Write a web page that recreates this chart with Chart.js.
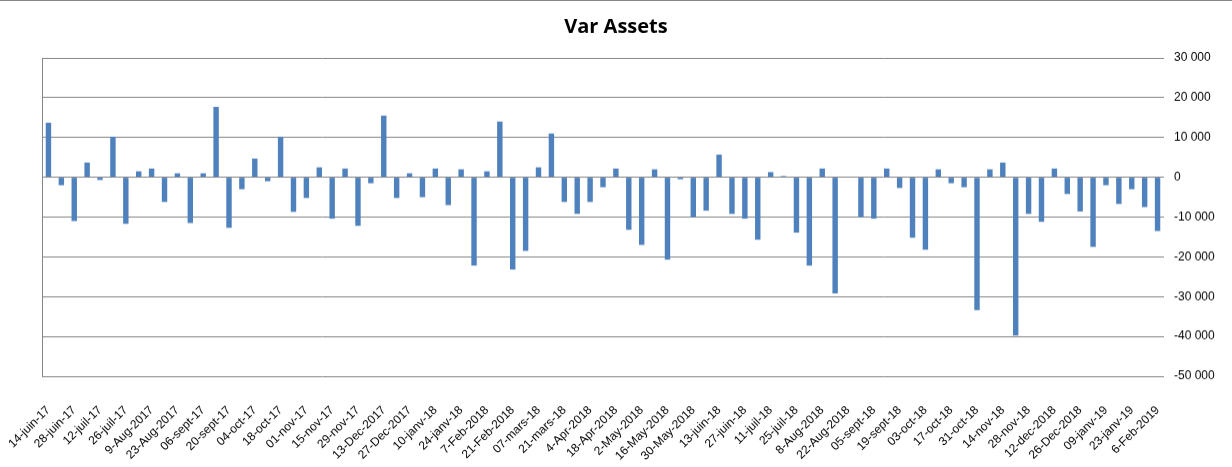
<!DOCTYPE html>
<html>
<head>
<meta charset="utf-8">
<title>Var Assets</title>
<script src="https://cdn.jsdelivr.net/npm/chart.js@4/dist/chart.umd.min.js"></script>
<style>
  body { margin: 0; background: #fff; }
  #chartVar { display: block; border-top: 1px solid #868686; }
</style>
</head>
<body>
<canvas id="chartVar" width="1232" height="466"></canvas>
<script>
// weekly dates (only every second one is printed on the axis)
var weeks = [
    '14-juin-17', '21-juin-17', '28-juin-17', '05-juil-17', '12-juil-17', '19-juil-17', '26-juil-17', '2-Aug-2017',
    '9-Aug-2017', '16-Aug-2017', '23-Aug-2017', '30-Aug-2017', '06-sept-17', '13-sept-17', '20-sept-17', '27-sept-17',
    '04-oct-17', '11-oct-17', '18-oct-17', '25-oct-17', '01-nov-17', '08-nov-17', '15-nov-17', '22-nov-17',
    '29-nov-17', '06-Dec-2017', '13-Dec-2017', '20-Dec-2017', '27-Dec-2017', '03-janv-18', '10-janv-18', '17-janv-18',
    '24-janv-18', '31-janv-18', '7-Feb-2018', '14-Feb-2018', '21-Feb-2018', '28-Feb-2018', '07-mars-18', '14-mars-18',
    '21-mars-18', '28-mars-18', '4-Apr-2018', '11-Apr-2018', '18-Apr-2018', '25-Apr-2018', '2-May-2018', '9-May-2018',
    '16-May-2018', '23-May-2018', '30-May-2018', '06-juin-18', '13-juin-18', '20-juin-18', '27-juin-18', '04-juil-18',
    '11-juil-18', '18-juil-18', '25-juil-18', '1-Aug-2018', '8-Aug-2018', '15-Aug-2018', '22-Aug-2018', '29-Aug-2018',
    '05-sept-18', '12-sept-18', '19-sept-18', '26-sept-18', '03-oct-18', '10-oct-18', '17-oct-18', '24-oct-18',
    '31-oct-18', '07-nov-18', '14-nov-18', '21-nov-18', '28-nov-18', '05-dec-2018', '12-dec-2018', '19-Dec-2018',
    '26-Dec-2018', '02-janv-19', '09-janv-19', '16-janv-19', '23-janv-19', '30-janv-19', '6-Feb-2019'
];

var varAssets = [
    13700, -2000, -11000, 3700, -700, 10200, -11700, 1500,
    2200, -6200, 1000, -11500, 1000, 17700, -12700, -3000,
    4700, -1000, 10200, -8700, -5200, 2500, -10400, 2200,
    -12200, -1500, 15500, -5200, 1000, -5000, 2200, -7000,
    2000, -22200, 1500, 14000, -23200, -18500, 2500, 11000,
    -6200, -9200, -6200, -2500, 2200, -13200, -17000, 2000,
    -20700, -500, -10000, -8400, 5700, -9200, -10400, -15700,
    1300, 300, -13900, -22200, 2200, -29200, 0, -10000,
    -10400, 2200, -2700, -15200, -18200, 2000, -1500, -2500,
    -33400, 2000, 3700, -39800, -9200, -11200, 2200, -4200,
    -8600, -17500, -2000, -6700, -3000, -7500, -13500
];

var yMin = -50000;
var yMax = 30000;
var yStep = 10000;

function formatThousands(v)
{
    return String(v).replace(/\B(?=(\d{3})+(?!\d))/g, ' ');
}

var gridGrey = '#868686';

var chart = new Chart(document.getElementById('chartVar'), {
    type: 'bar',
    data: {
        labels: weeks,
        datasets: [{
            label: 'Var Assets',
            data: varAssets,
            backgroundColor: '#4F81BD',
            barPercentage: 0.42,
            categoryPercentage: 1
        }]
    },
    options: {
        responsive: false,
        animation: false,
        layout: { padding: 0 },
        plugins: {
            legend: { display: false },
            tooltip: { enabled: false },
            title: {
                display: true,
                text: 'Var Assets',
                color: '#000',
                font: { family: "'Open Sans', 'Liberation Sans', sans-serif", size: 20, weight: 'bold' },
                padding: { top: 14, bottom: 19 }
            }
        },
        scales: {
            x: {
                grid: { display: false },
                border: { display: false },
                ticks: {
                    autoSkip: false,
                    maxRotation: 45,
                    minRotation: 45,
                    padding: 19,
                    color: '#000',
                    font: { family: "'Liberation Sans', Arial, sans-serif", size: 12 },
                    callback: function(value, index) {
                        return index % 2 === 0 ? this.getLabelForValue(value) : '';
                    }
                },
                afterFit: function(scale) {
                    scale.height = 90;
                    // rotated labels may hang out on the left, do not shrink the plot for them
                    scale.paddingLeft = 0;
                    scale.paddingRight = 0;
                }
            },
            y: {
                position: 'right',
                min: yMin,
                max: yMax,
                grid: { color: gridGrey, drawTicks: false },
                border: { display: false },
                ticks: {
                    stepSize: yStep,
                    padding: 10,
                    color: '#000',
                    font: { family: "'Liberation Sans', Arial, sans-serif", size: 12 },
                    callback: function(value) { return formatThousands(value); }
                },
                afterFit: function(scale) { scale.width = 68; }
            },
            yLeft: {
                position: 'left',
                min: yMin,
                max: yMax,
                grid: { display: true, drawOnChartArea: false, drawTicks: false },
                border: { display: true, color: gridGrey },
                ticks: { display: false },
                afterFit: function(scale) { scale.width = 42; }
            }
        }
    }
});
</script>
</body>
</html>
